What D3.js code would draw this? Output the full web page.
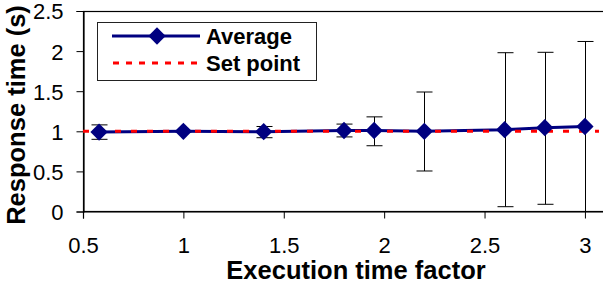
<!DOCTYPE html>
<html>
<head>
<meta charset="utf-8">
<script src="https://cdn.jsdelivr.net/npm/d3@7"></script>
<style>
  body { margin: 0; background: #fff; }
  svg { display: block; font-family: "Liberation Sans", Arial, sans-serif; }
</style>
</head>
<body>
<svg width="603" height="286"></svg>
<script>
// execution time factor
var factors = [0.58, 1.0, 1.4, 1.8, 1.95, 2.2, 2.6, 2.8, 3.0];
// average response time (s)
var average = [0.99, 1.0, 0.995, 1.01, 1.01, 1.0, 1.02, 1.045, 1.06];
var errLow  = [0.90, 0.99, 0.92, 0.93, 0.82, 0.505, 0.06, 0.09, 0.0];
var errHigh = [1.08, 1.01, 1.06, 1.09, 1.18, 1.49, 1.98, 1.985, 2.12];
var setPoint = 1;
var xTicks = [0.5, 1, 1.5, 2, 2.5, 3];
var yTicks = [0, 0.5, 1, 1.5, 2, 2.5];

var svg = d3.select("svg");
var navy = "#000080";

var x = d3.scaleLinear().domain([0.5, 3.1]).range([83, 605]);
var y = d3.scaleLinear().domain([0, 2.5]).range([211.5, 11]);

// plot frame
svg.append("rect")
  .attr("x", 83.5).attr("y", 11.5)
  .attr("width", 540).attr("height", 200)
  .attr("fill", "none").attr("stroke", "#000").attr("stroke-width", 1.2);

// axes
var xAxis = svg.append("g")
  .attr("transform", "translate(0,211.5)")
  .call(d3.axisBottom(x).tickValues(xTicks).tickSize(7).tickPadding(19).tickFormat(d3.format("")));
var yAxis = svg.append("g")
  .attr("transform", "translate(83.5,0)")
  .call(d3.axisLeft(y).tickValues(yTicks).tickSize(7).tickPadding(13).tickFormat(d3.format("")));
[xAxis, yAxis].forEach(function(a) {
  a.select(".domain").attr("stroke", "#000").attr("stroke-width", 1.2);
  a.selectAll(".tick line").attr("stroke", "#000");
  a.selectAll("text").attr("font-size", 22).attr("fill", "#000")
    .attr("font-family", "Liberation Sans, Arial, sans-serif");
});
yAxis.selectAll("text").attr("dy", "0.36em");

// error bars
var eb = svg.append("g").attr("stroke", "#000").attr("stroke-width", 1);
factors.forEach(function(f, i) {
  var cx = Math.round(x(f)) + 0.5;
  eb.append("line").attr("x1", cx).attr("x2", cx).attr("y1", y(errLow[i])).attr("y2", y(errHigh[i]));
  [errLow[i], errHigh[i]].forEach(function(v) {
    eb.append("line").attr("x1", cx - 8).attr("x2", cx + 8).attr("y1", y(v)).attr("y2", y(v));
  });
});

// average line
var pts = factors.map(function(f, i) { return [f, average[i]]; });
svg.append("path")
  .datum(pts)
  .attr("fill", "none").attr("stroke", navy).attr("stroke-width", 3)
  .attr("d", d3.line().x(function(d) { return x(d[0]); }).y(function(d) { return y(d[1]); }));

// set point
svg.append("line")
  .attr("x1", x(0.5)).attr("x2", x(3.07))
  .attr("y1", y(setPoint)).attr("y2", y(setPoint))
  .attr("stroke", "#ff0000").attr("stroke-width", 3).attr("stroke-dasharray", "6,10");

// markers
var diamond = d3.symbol().type(d3.symbolSquare).size(150);
svg.selectAll(".mk").data(pts).enter().append("path")
  .attr("d", diamond)
  .attr("transform", function(d) { return "translate(" + x(d[0]) + "," + y(d[1]) + ") rotate(45)"; })
  .attr("fill", navy);

// legend
var lg = svg.append("g");
lg.append("rect").attr("x", 97.5).attr("y", 22.5).attr("width", 219).attr("height", 58)
  .attr("fill", "#fff").attr("stroke", "#222").attr("stroke-width", 1);
lg.append("line").attr("x1", 112).attr("x2", 200).attr("y1", 36).attr("y2", 36)
  .attr("stroke", navy).attr("stroke-width", 3);
lg.append("path").attr("d", diamond).attr("transform", "translate(157,36) rotate(45)").attr("fill", navy);
lg.append("line").attr("x1", 113).attr("x2", 200).attr("y1", 63).attr("y2", 63)
  .attr("stroke", "#ff0000").attr("stroke-width", 3).attr("stroke-dasharray", "6,7");
lg.append("text").attr("x", 206).attr("y", 44).text("Average")
  .attr("font-size", 22).attr("font-weight", "bold");
lg.append("text").attr("x", 206).attr("y", 71).text("Set point")
  .attr("font-size", 22).attr("font-weight", "bold");

// axis titles
svg.append("text").attr("x", 356).attr("y", 279).attr("text-anchor", "middle")
  .attr("font-size", 25.5).attr("font-weight", "bold").text("Execution time factor");
svg.append("text").attr("transform", "translate(25,115) rotate(-90)").attr("text-anchor", "middle")
  .attr("font-size", 25.5).attr("font-weight", "bold").text("Response time (s)");
</script>
</body>
</html>
